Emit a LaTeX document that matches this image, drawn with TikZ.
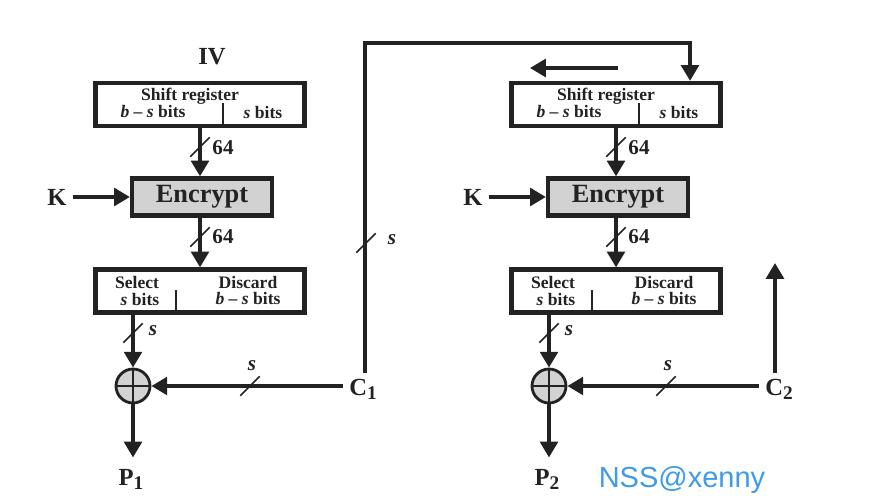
\documentclass[tikz,border=0pt]{standalone}
\usepackage{fontspec}
\setmainfont{Liberation Serif}
\newfontfamily\tagfont{Liberation Sans}
\usetikzlibrary{arrows.meta}

\definecolor{inkc}{HTML}{222222}
\definecolor{boxgray}{HTML}{D2D2D2}
\definecolor{tagblue}{HTML}{3D9BE9}

\newcommand{\subl}[1]{\raisebox{-0.35ex}{\fontsize{11}{11}\selectfont #1}}

\begin{document}
\begin{tikzpicture}[x=0.02cm,y=-0.02cm,
    flow/.style={draw=inkc, line width=2.2pt, -{Triangle[length=9pt,width=10pt]}},
    regbox/.style={draw=inkc, line width=2.4pt, minimum width=4.18cm, minimum height=0.86cm, inner sep=0pt},
    encbox/.style={draw=inkc, fill=boxgray, line width=2.4pt, minimum width=2.8cm, minimum height=0.74cm,
        font=\fontsize{15}{15}\selectfont\bfseries, text=inkc},
    xorc/.style={circle, draw=inkc, fill=boxgray, line width=1.6pt, minimum size=0.68cm, inner sep=0pt},
    biglabel/.style={font=\fontsize{14}{14}\selectfont\bfseries, text=inkc},
    boxtext/.style={font=\fontsize{10}{10}\selectfont\bfseries, text=inkc, inner sep=0pt},
    widthlabel/.style={font=\fontsize{12}{12}\selectfont\bfseries, text=inkc, inner sep=0pt},
    pics/bus/.style={code={\draw[inkc, line width=1pt] (-5.5pt,-5.5pt) -- (5.5pt,5.5pt);}}]
    \useasboundingbox (0,0) rectangle (893,502);

    \foreach \i/\dx in {1/0, 2/416} {
        % boxes
        \node[regbox] (sr\i) at (200+\dx,104.5) {};
        \node[encbox] (enc\i) at (202+\dx,197) {Encrypt};
        \node[regbox] (sel\i) at (200+\dx,291) {};
        \node[xorc] (xor\i) at (133+\dx,386) {};
        \draw[inkc, line width=1.4pt] (xor\i.north) -- (xor\i.south) (xor\i.west) -- (xor\i.east);

        % texts inside the registers
        \node[boxtext] at (190+\dx,96) {Shift register};
        \node[boxtext] at (153+\dx,112) {\textit{b} – \textit{s} bits};
        \node[boxtext] at (263+\dx,112) {\textit{s} bits};
        \draw[inkc, line width=0.7pt] (223+\dx,103) -- (223+\dx,127);
        \node[boxtext] at (137+\dx,282) {Select};
        \node[boxtext] at (140+\dx,299) {\textit{s} bits};
        \node[boxtext] at (248+\dx,282) {Discard};
        \node[boxtext] at (248+\dx,299) {\textit{b} – \textit{s} bits};
        \draw[inkc, line width=0.7pt] (176+\dx,290) -- (176+\dx,313);

        % outer labels
        \node[biglabel] (k\i) at (57+\dx,197) {K};
        \node[biglabel] (p\i) at (131+\dx,479) {P\subl{\i}};
        \node[biglabel] (c\i) at (363+\dx,389) {C\subl{\i}};

        % arrows
        \draw[flow] (k\i) -- (enc\i.west);
        \draw[flow] (sr\i.south) -- (sr\i.south |- enc\i.north);
        \draw[flow] (sel\i.north |- enc\i.south) -- (sel\i.north);
        \draw[flow] (xor\i.north |- sel\i.south) -- (xor\i.north);
        \draw[flow, shorten >=3pt] (xor\i.south) -- (xor\i.south |- p\i.north);
        \draw[flow] (c\i.west |- xor\i.east) -- (xor\i.east);

        % bus widths
        \pic at (200+\dx,147) {bus};
        \node[widthlabel] at (223+\dx,148) {64};
        \pic at (200+\dx,237) {bus};
        \node[widthlabel] at (223+\dx,237) {64};
        \pic at (133+\dx,333) {bus};
        \node[widthlabel] at (153+\dx,331) {\textit{s}};
        \pic at (250+\dx,386) {bus};
        \node[widthlabel] at (252+\dx,366) {\textit{s}};
    }

    \node[biglabel] (iv) at (212,57) {IV};

    % feedback of C1 into the second shift register
    \coordinate (fbx) at (365,0);
    \coordinate (fbtop) at (690,43);
    \draw[flow] (c1.north -| fbx) |- (fbtop) -- (sr2.north -| fbtop);
    \pic at (366,243) {bus};
    \node[widthlabel] at (392,240) {\textit{s}};

    % shift direction
    \coordinate (shs) at (618,68);
    \coordinate (she) at (530,68);
    \draw[flow] (shs) -- (she);

    % C2 onwards
    \coordinate (c2up) at (775,263);
    \draw[flow] (c2.north -| c2up) -- (c2up);

    \node[font=\tagfont\fontsize{16.5}{16.5}\selectfont, text=tagblue] (tag) at (682,480) {NSS@xenny};
\end{tikzpicture}
\end{document}
